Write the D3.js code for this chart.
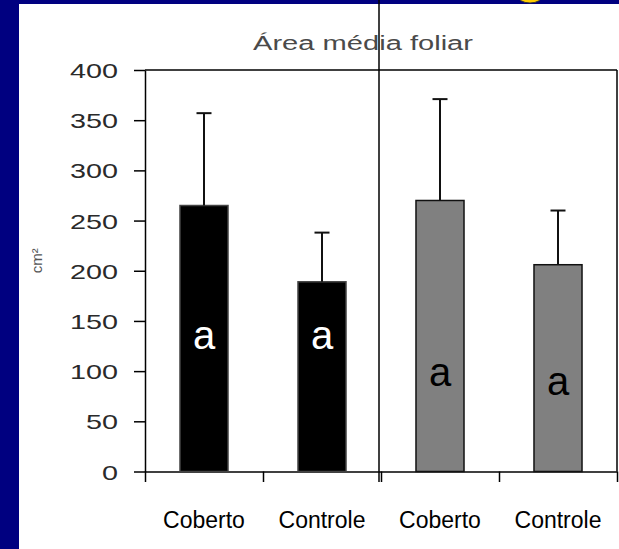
<!DOCTYPE html>
<html>
<head>
<meta charset="utf-8">
<script src="https://cdn.jsdelivr.net/npm/d3@7"></script>
<style>
  html, body { margin: 0; padding: 0; background: #000080; }
  svg { display: block; }
</style>
</head>
<body>
<svg id="chart"></svg>
<script>
// values (cm2)
var categories = ["Coberto", "Controle", "Coberto", "Controle"];
var means = [265, 189, 270, 206];
var errors = [92, 49, 101, 54];
var letters = ["a", "a", "a", "a"];
var letterAt = [122, 122, 85, 76];
var yTicks = [0, 50, 100, 150, 200, 250, 300, 350, 400];
var barFill = ["#000000", "#000000", "#808080", "#808080"];
var letterFill = ["#ffffff", "#ffffff", "#000000", "#000000"];

var width = 619, height = 549;
var font = "'Liberation Sans', Arial, sans-serif";

var svg = d3.select("#chart")
  .attr("width", width)
  .attr("height", height);

// slide background and white panel
svg.append("rect").attr("width", width).attr("height", height).attr("fill", "#000080");
svg.append("rect").attr("x", 19).attr("y", 4)
  .attr("width", width - 19).attr("height", height - 4).attr("fill", "#ffffff");
// bit of the yellow slide title peeking in at the top
svg.append("ellipse").attr("cx", 530).attr("cy", -5).attr("rx", 13).attr("ry", 8)
  .attr("fill", "#ffcc00").attr("stroke", "#333").attr("stroke-width", 1);
svg.append("rect").attr("x", 19).attr("y", 4).attr("width", width - 19).attr("height", 6)
  .attr("fill", "#ffffff");

var x = d3.scaleBand()
  .domain(d3.range(categories.length))
  .range([145, 617])
  .paddingInner(0.593)
  .paddingOuter(0.2965);

var xEdge = d3.scaleLinear().domain([0, categories.length]).range([145, 617]);

var y = d3.scaleLinear().domain([0, 400]).range([471.5, 70]);

// title
svg.append("text")
  .attr("x", 253).attr("y", 50)
  .attr("textLength", 220).attr("lengthAdjust", "spacingAndGlyphs")
  .style("font-family", font).style("font-size", "20px")
  .attr("fill", "#4a4a4a")
  .text("Área média foliar");

// y label
svg.append("text")
  .attr("transform", "translate(42," + y(210) + ") rotate(-90)")
  .attr("text-anchor", "middle")
  .style("font-family", font).style("font-size", "15px")
  .attr("fill", "#555")
  .text("cm²");

// frame top and right
svg.append("line").attr("x1", 145).attr("x2", 617).attr("y1", y(400)).attr("y2", y(400))
  .attr("stroke", "#000").attr("stroke-width", 1.5);
svg.append("line").attr("x1", 617).attr("x2", 617).attr("y1", y(400)).attr("y2", y(0))
  .attr("stroke", "#000").attr("stroke-width", 1.5);

// y axis
var yAxis = svg.append("g")
  .attr("transform", "translate(145,0)")
  .call(d3.axisLeft(y).tickValues(yTicks).tickSize(11).tickSizeOuter(0).tickPadding(16));
yAxis.selectAll("path, line").attr("stroke", "#000").attr("stroke-width", 1.5);
yAxis.selectAll("text")
  .attr("font-family", font).attr("font-size", 21)
  .attr("fill", "#2a2a2a")
  .attr("dy", "0.36em")
  .attr("lengthAdjust", "spacingAndGlyphs")
  .attr("textLength", function(d) { return String(d).length * 16; });

// x axis (ticks at the category edges)
var xAxis = svg.append("g")
  .attr("transform", "translate(0," + y(0) + ")")
  .call(d3.axisBottom(xEdge).tickValues(d3.range(categories.length + 1))
    .tickFormat("").tickSize(10.5).tickSizeOuter(0));
xAxis.selectAll("path, line").attr("stroke", "#000").attr("stroke-width", 1.5);

// vertical divider between the two charts
svg.append("line")
  .attr("x1", xEdge(2) - 2).attr("x2", xEdge(2) - 2)
  .attr("y1", 0).attr("y2", y(0) + 10.5)
  .attr("stroke", "#000").attr("stroke-width", 1.5);

// bars
svg.selectAll(".bar")
  .data(means)
  .enter().append("rect")
  .attr("class", "bar")
  .attr("x", function(d, i) { return x(i); })
  .attr("y", function(d) { return y(d); })
  .attr("width", x.bandwidth())
  .attr("height", function(d) { return y(0) - y(d); })
  .attr("fill", function(d, i) { return barFill[i]; })
  .attr("stroke", function(d, i) { return i < 2 ? "#444" : "#111"; })
  .attr("stroke-width", 1.5);

// error bars (upper only)
var err = svg.selectAll(".err")
  .data(means)
  .enter().append("g")
  .attr("class", "err");
err.append("line")
  .attr("x1", function(d, i) { return x(i) + x.bandwidth() / 2; })
  .attr("x2", function(d, i) { return x(i) + x.bandwidth() / 2; })
  .attr("y1", function(d) { return y(d); })
  .attr("y2", function(d, i) { return y(d + errors[i]); })
  .attr("stroke", "#111").attr("stroke-width", 2);
err.append("line")
  .attr("x1", function(d, i) { return x(i) + x.bandwidth() / 2 - 7.5; })
  .attr("x2", function(d, i) { return x(i) + x.bandwidth() / 2 + 7.5; })
  .attr("y1", function(d, i) { return y(d + errors[i]); })
  .attr("y2", function(d, i) { return y(d + errors[i]); })
  .attr("stroke", "#111").attr("stroke-width", 2);

// significance letters
svg.selectAll(".letter")
  .data(letters)
  .enter().append("text")
  .attr("class", "letter")
  .attr("x", function(d, i) { return x(i) + x.bandwidth() / 2; })
  .attr("y", function(d, i) { return y(letterAt[i]); })
  .attr("text-anchor", "middle")
  .style("font-family", font).style("font-size", "40px")
  .attr("fill", function(d, i) { return letterFill[i]; })
  .text(function(d) { return d; });

// category labels
svg.selectAll(".cat")
  .data(categories)
  .enter().append("text")
  .attr("class", "cat")
  .attr("x", function(d, i) { return x(i) + x.bandwidth() / 2; })
  .attr("y", 528)
  .attr("text-anchor", "middle")
  .style("font-family", font).style("font-size", "23px")
  .attr("fill", "#000")
  .text(function(d) { return d; });
</script>
</body>
</html>
